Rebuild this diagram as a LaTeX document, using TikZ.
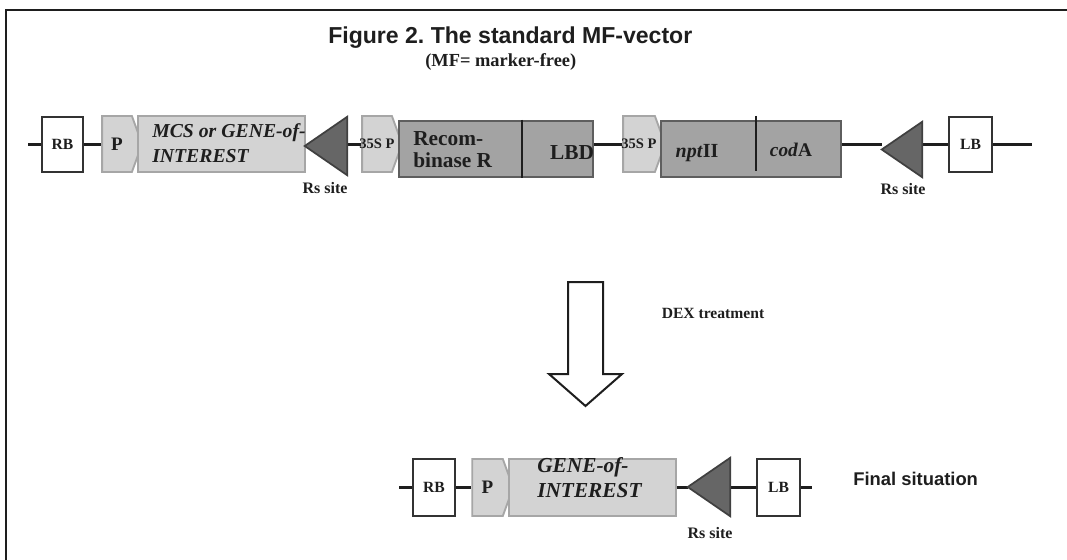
\documentclass[tikz,border=0pt]{standalone}
\usepackage{fontspec}
\setmainfont{Liberation Serif}
\newfontfamily\arialfont{Liberation Sans}
\usetikzlibrary{shapes.symbols,calc}
\frenchspacing
\definecolor{lightfill}{HTML}{D3D3D3}
\definecolor{lightedge}{HTML}{A6A6A6}
\definecolor{midfill}{HTML}{A3A3A3}
\definecolor{midedge}{HTML}{5E5E5E}
\definecolor{darkfill}{HTML}{666666}
\definecolor{darkedge}{HTML}{404040}
\definecolor{ink}{HTML}{1E1E1E}
\begin{document}
\begin{tikzpicture}[x=0.75pt,y=-0.75pt,
  every node/.style={text=ink, inner sep=0pt},
  backbone/.style={draw=ink, line width=2.2pt},
  whitebox/.style={draw=darkedge!80!black, line width=1.6pt, fill=white, minimum height=41.25pt, font=\bfseries\fontsize{11.7}{14}\selectfont},
  promoter/.style={shape=signal, signal to=east, signal pointer angle=140, fill=lightfill, draw=lightedge, line width=1.4pt, minimum height=42pt},
  lightbox/.style={draw=lightedge, fill=lightfill, line width=1.4pt, minimum height=42pt},
  midbox/.style={draw=midedge, fill=midfill, line width=1.6pt, minimum height=42pt},
  trislot/.style={minimum width=31.5pt, minimum height=43.5pt},
  rsite/.style={fill=darkfill, draw=darkedge, line width=1.3pt, line join=miter},
  divider/.style={draw=ink, line width=0.9pt},
  rslabel/.style={font=\bfseries\fontsize{12}{14}\selectfont},
  genefont/.style={font=\bfseries\itshape\fontsize{14.8}{18.75}\selectfont, align=left},
  bigfont/.style={font=\bfseries\fontsize{16}{16.5}\selectfont},
  geneitfont/.style={font=\bfseries\itshape\fontsize{16}{18.75}\selectfont, align=left},
  smallprom/.style={font=\bfseries\fontsize{10.9}{12}\selectfont}
]
\useasboundingbox (0,0) rectangle (1067,560);
% frame
\draw[ink, line width=1.6pt] (6,560) -- (6,10) -- (1067,10);
% titles
\node[anchor=base west, font={\arialfont\bfseries\fontsize{17.3}{20}\selectfont}] (title) at (328,44) {Figure 2. The standard MF-vector};
\node[anchor=base west, font=\bfseries\fontsize{13.8}{16}\selectfont] (subtitle) at (425,67) {(MF= marker-free)};

% ---------- top row ----------
\coordinate (l0) at (28,144.5);
\coordinate (r0) at (1032,144.5);
\node[whitebox, minimum width=30.75pt] (rb1) at (62.5,144.5) {RB};
\node[promoter, minimum width=30pt, font=\bfseries\fontsize{14.3}{17}\selectfont] (p1) at (117,144) {P};
\node[lightbox, minimum width=125.25pt] (mcs) at (221.5,144) {};
\node[genefont, anchor=base west] (mcstext) at (152,162) {MCS or GENE-of-\\INTEREST};
\node[trislot] (t1) at (326,146) {};
\node[promoter, minimum width=30pt, label={[smallprom]center:35S P}] (s1) at (377,144) {};
\node[midbox, minimum width=145.5pt] (rec) at (496,149) {};
\node[bigfont, align=left, anchor=base west] (rectext) at (413,167) {Recom-\\binase R};
\node[bigfont] (lbd) at (572,153) {LBD};
\node[promoter, minimum width=31.5pt, label={[smallprom]center:35S P}] (s2) at (639,144) {};
\node[midbox, minimum width=135pt] (npt) at (751,149) {};
\node[font=\bfseries\fontsize{15}{17}\selectfont] (npttext) at (697,153) {\textit{npt}II};
\node[font=\bfseries\fontsize{14.5}{17}\selectfont] (codtext) at (791,150) {\textit{cod}A};
\node[minimum width=30pt, minimum height=41.25pt] (t2) at (902,149.5) {};
\node[whitebox, minimum width=32.25pt] (lb1) at (970.5,144.5) {LB};

\draw[divider] ([xshift=93pt]rec.north west) -- ([xshift=93pt]rec.south west);
\draw[divider] ($(npt.north west)+(96,-4)$) -- ++(0,55);

\draw[backbone] (l0) -- (rb1.west);
\draw[backbone] (rb1.east) -- (p1.west |- rb1);
\draw[backbone] (t1.east |- rb1) -- (s1.west |- rb1);
\draw[backbone] (rec.east |- rb1) -- (s2.west |- rb1);
\draw[backbone] (npt.east |- rb1) -- (t2.west |- rb1);
\draw[backbone] (t2.east |- rb1) -- (lb1.west);
\draw[backbone] (lb1.east) -- (r0);

\filldraw[rsite] (t1.west) -- (t1.north east) -- (t1.south east) -- cycle;
\filldraw[rsite] (t2.west) -- (t2.north east) -- (t2.south east) -- cycle;

\node[rslabel] (rs1) at (325,188) {Rs site};
\node[rslabel] (rs2) at (903,189) {Rs site};

% ---------- DEX arrow ----------
\filldraw[draw=ink, fill=white, line width=1.5pt, line join=miter]
  (568,282) -- (603,282) -- (603,374) -- (622,374) -- (585.5,406) -- (549,374) -- (568,374) -- cycle;
\node[font=\bfseries\fontsize{11.7}{14}\selectfont] (dex) at (713,313) {DEX treatment};

% ---------- bottom row ----------
\coordinate (l1) at (399,487.5);
\coordinate (r1) at (812,487.5);
\node[whitebox, minimum width=31.5pt, minimum height=42.75pt] (rb2) at (434,487.5) {RB};
\node[promoter, minimum width=30.75pt, minimum height=42.75pt, font=\bfseries\fontsize{14.3}{17}\selectfont] (p2) at (487.5,487.5) {P};
\node[lightbox, minimum width=125.25pt, minimum height=42.75pt] (gene) at (592.5,487.5) {};
\node[geneitfont, anchor=base west] (genetext) at (537,497) {GENE-of-\\INTEREST};
\node[trislot] (t3) at (709,487) {};
\node[whitebox, minimum width=32.25pt, minimum height=42.75pt] (lb2) at (778.5,487.5) {LB};

\draw[backbone] (l1) -- (rb2.west);
\draw[backbone] (rb2.east) -- (p2.west |- rb2);
\draw[backbone] (gene.east |- rb2) -- (t3.west |- rb2);
\draw[backbone] (t3.east |- rb2) -- (lb2.west);
\draw[backbone] (lb2.east) -- (r1);
\filldraw[rsite] (t3.west) -- (t3.north east) -- (t3.south east) -- cycle;

\node[rslabel] (rs3) at (710,533) {Rs site};
\node[anchor=west, font={\arialfont\bfseries\fontsize{13.8}{16}\selectfont}] (final) at (853,479) {Final situation};
\end{tikzpicture}
\end{document}
